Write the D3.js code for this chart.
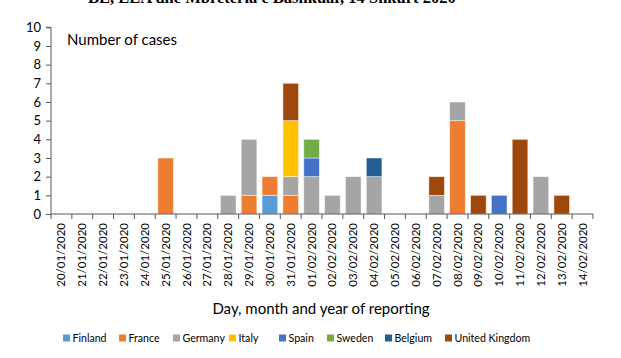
<!DOCTYPE html>
<html><head><meta charset="utf-8">
<script src="https://cdn.jsdelivr.net/npm/d3@7"></script>
<style>body{margin:0;background:#fff}svg{display:block}</style>
</head><body>
<script>
const dates = ["20/01/2020","21/01/2020","22/01/2020","23/01/2020","24/01/2020","25/01/2020","26/01/2020","27/01/2020","28/01/2020","29/01/2020","30/01/2020","31/01/2020","01/02/2020","02/02/2020","03/02/2020","04/02/2020","05/02/2020","06/02/2020","07/02/2020","08/02/2020","09/02/2020","10/02/2020","11/02/2020","12/02/2020","13/02/2020","14/02/2020"];
const countries = ["Finland","France","Germany","Italy","Spain","Sweden","Belgium","United Kingdom"];
const colors = ["#5B9BD5","#ED7D31","#A5A5A5","#FFC000","#4472C4","#70AD47","#255E91","#9E480E"];
const finland = [0,0,0,0,0,0,0,0,0,0,1,0,0,0,0,0,0,0,0,0,0,0,0,0,0,0];
const france  = [0,0,0,0,0,3,0,0,0,1,1,1,0,0,0,0,0,0,0,5,0,0,0,0,0,0];
const germany = [0,0,0,0,0,0,0,0,1,3,0,1,2,1,2,2,0,0,1,1,0,0,0,2,0,0];
const italy   = [0,0,0,0,0,0,0,0,0,0,0,3,0,0,0,0,0,0,0,0,0,0,0,0,0,0];
const spain   = [0,0,0,0,0,0,0,0,0,0,0,0,1,0,0,0,0,0,0,0,0,1,0,0,0,0];
const sweden  = [0,0,0,0,0,0,0,0,0,0,0,0,1,0,0,0,0,0,0,0,0,0,0,0,0,0];
const belgium = [0,0,0,0,0,0,0,0,0,0,0,0,0,0,0,1,0,0,0,0,0,0,0,0,0,0];
const uk      = [0,0,0,0,0,0,0,0,0,0,0,2,0,0,0,0,0,0,1,0,1,0,4,0,1,0];
const yTicks = [0,1,2,3,4,5,6,7,8,9,10];
const yTitle = "Number of cases";
const xTitle = "Day, month and year of reporting";
const topTitle = "BE, EEA dhe Mbretëria e Bashkuar, 14 Shkurt 2020";

const series = [finland,france,germany,italy,spain,sweden,belgium,uk];
const rows = dates.map((d,i)=>{const r={date:d};countries.forEach((c,k)=>r[c]=series[k][i]);return r;});

const W=621,H=358;
const svg=d3.select("body").append("svg").attr("width",W).attr("height",H);
const font="Lato, 'Open Sans', sans-serif";
const axisCol="#595959";

const x=d3.scaleBand().domain(dates).range([51,593]).paddingInner(0.25).paddingOuter(0.125);
const y=d3.scaleLinear().domain([0,10]).range([214,27.3]);

svg.append("text").attr("x",88).attr("y",3).attr("font-family","'Liberation Serif', serif")
  .attr("font-weight","bold").attr("font-size",16.5).attr("fill","#000").text(topTitle);

const stack=d3.stack().keys(countries)(rows);
svg.append("g").selectAll("g").data(stack).join("g").attr("fill",(d,i)=>colors[i])
  .selectAll("rect").data(d=>d.filter(p=>p[1]>p[0])).join("rect")
  .attr("x",d=>x(d.data.date)).attr("width",x.bandwidth())
  .attr("y",d=>y(d[1])).attr("height",d=>y(d[0])-y(d[1]))
  .attr("stroke","#fff").attr("stroke-opacity",0.6).attr("stroke-width",0.8);

// y axis
const ya=svg.append("g").attr("transform","translate(51,0)")
  .call(d3.axisLeft(y).tickValues(yTicks).tickSize(5).tickPadding(5));
ya.select(".domain").attr("stroke",axisCol).attr("d","M-5,"+y(10)+"H0V"+y(0));
ya.selectAll(".tick line").attr("stroke",axisCol);
ya.selectAll("text").attr("font-family",font).attr("font-size",13).attr("fill","#000");

// x axis
const xa=svg.append("g").attr("transform","translate(0,214)");
xa.append("line").attr("x1",51).attr("x2",593).attr("stroke",axisCol).attr("stroke-width",1.2);
xa.selectAll("line.t").data(d3.range(dates.length+1)).join("line").attr("class","t")
  .attr("x1",i=>51+i*(542/dates.length)).attr("x2",i=>51+i*(542/dates.length))
  .attr("y1",0).attr("y2",5).attr("stroke",axisCol);
xa.selectAll("text").data(dates).join("text")
  .attr("transform",d=>`translate(${x(d)+x.bandwidth()/2+4},9) rotate(-90)`)
  .attr("text-anchor","end").attr("font-family",font).attr("font-size",11.5).attr("fill","#000").text(d=>d);

svg.append("text").attr("x",67).attr("y",45).attr("font-family",font).attr("font-size",15).attr("fill","#000").text(yTitle);
svg.append("text").attr("x",321).attr("y",314).attr("text-anchor","middle").attr("font-family",font).attr("font-size",15).attr("fill","#000").text(xTitle);

// legend
const legX=[63,119,173,229,279,327,385,445];
const lg=svg.append("g").selectAll("g").data(countries).join("g").attr("transform",(d,i)=>`translate(${legX[i]},338)`);
lg.append("rect").attr("x",0).attr("y",-3.5).attr("width",7).attr("height",7).attr("fill",(d,i)=>colors[i]);
lg.append("text").attr("x",9.5).attr("y",4).attr("font-family",font).attr("font-size",10.6).attr("fill","#000").text(d=>d);
</script>
</body></html>
